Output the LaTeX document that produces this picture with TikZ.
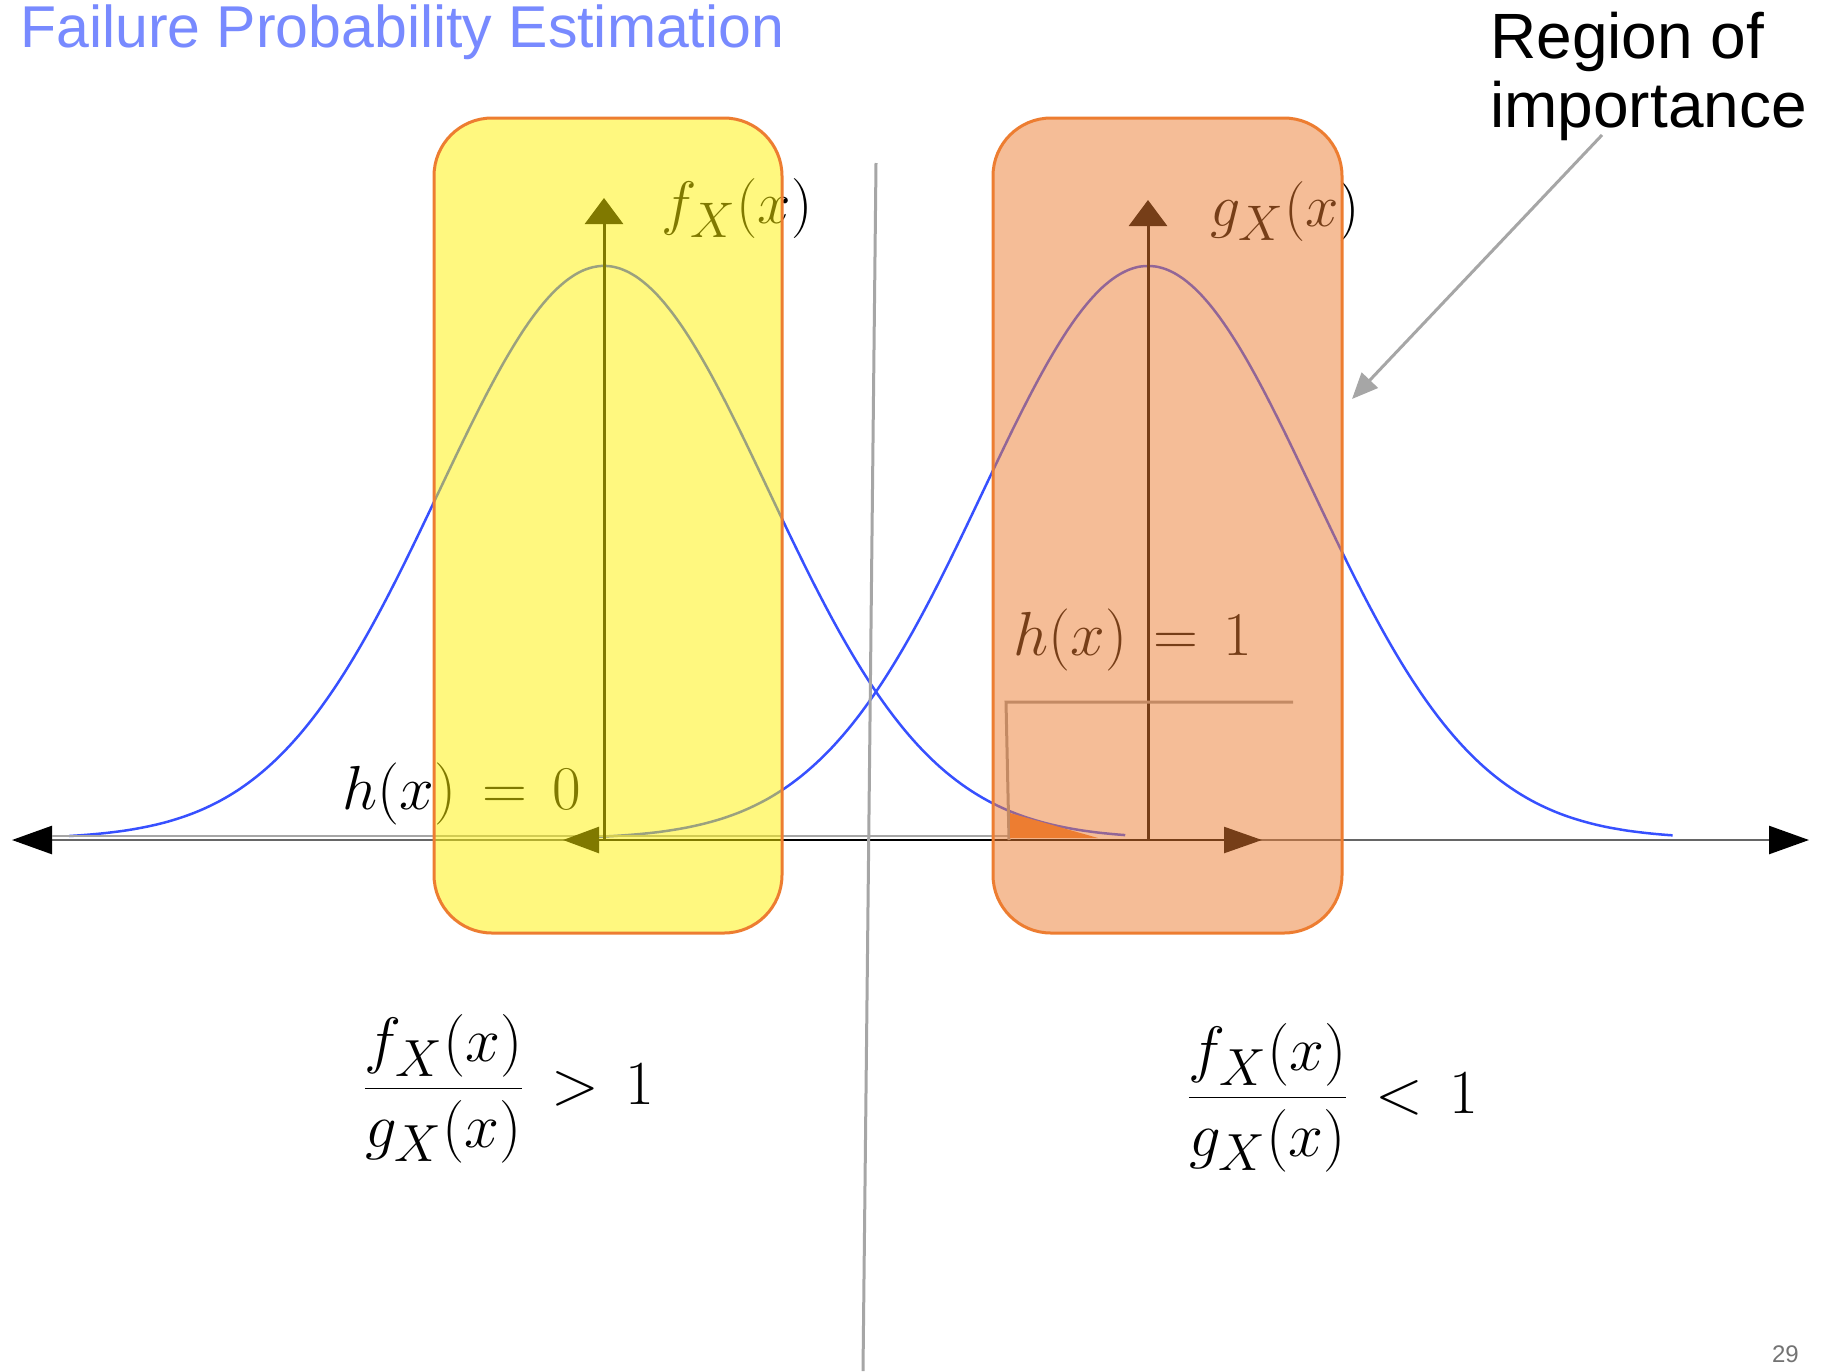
\documentclass[tikz,border=0pt]{standalone}
\usepackage{fontspec}
\usetikzlibrary{arrows.meta}
\newfontfamily\slidefont{Liberation Sans}
\definecolor{curveblue}{RGB}{55,80,255}
\definecolor{boxorange}{RGB}{237,125,49}
\definecolor{titleblue}{RGB}{120,138,255}
\definecolor{guidegray}{RGB}{166,166,166}
\newcommand{\slidemath}[2][2.41]{\scalebox{#1}{\Huge$\displaystyle #2$}}

\begin{document}
\begin{tikzpicture}[x=1pt, y=-1pt,
  density/.style={line width=2.5pt, color=curveblue},
  axisline/.style={line width=2.5pt, color=black!60},
  bigtip/.tip={Triangle[length=40pt, width=28pt, color=black]},
  regionbox/.style={draw=boxorange, line width=3pt, rounded corners=58pt, fill opacity=0.5, inner sep=0pt},
  mathlabel/.style={inner sep=0pt},
  guide/.style={line width=3pt, color=guidegray}
]
\useasboundingbox[fill=white] (0,0) rectangle (1828,1371);

% the two densities
\draw[density] plot[domain=-3.24:3.16, samples=120, smooth] ({604+165*\x},{839-573*exp(-\x*\x/2)});
\draw[density] plot[domain=-3.35:3.18, samples=120, smooth] ({1148+165*\x},{839-573*exp(-\x*\x/2)});

% axes
\coordinate (axl) at (12,840);
\coordinate (axr) at (1809,840);
\draw[axisline, bigtip-bigtip] (axl) -- (axr);
\draw[line width=2.5pt, black!35] (52,836) -- (1008,836);
\coordinate (gl) at (563,840);
\coordinate (gr) at (1262,840);
\draw[line width=2.5pt, {Triangle[length=36pt, width=26pt]}-{Triangle[length=38pt, width=26pt]}] (gl) -- (gr);
\coordinate (fo) at (604,840);
\coordinate (ft) at (604,198);
\draw[line width=3pt, -{Triangle[length=26pt, width=38pt]}] (fo) -- (ft);
\coordinate (go) at (1148,840);
\coordinate (gt) at (1148,200);
\draw[line width=3pt, -{Triangle[length=26pt, width=38pt]}] (go) -- (gt);

% dividing line
\coordinate (divtop) at (876,163);
\coordinate (divbot) at (863,1371);
\draw[guide] (divtop) -- (divbot);

% indicator step
\coordinate (stepr) at (1293,702);
\coordinate (stepc) at (1006,702);
\coordinate (stepb) at (1009,840);
\draw[line width=3pt, black!40] (stepr) -- (stepc) -- (stepb);

% labels under the boxes
\node[mathlabel] (flabel) at (737,209) {\slidemath{f_X(x)}};
\node[mathlabel] (glabel) at (1285,212) {\slidemath{g_X(x)}};
\node[mathlabel] (hone) at (1133,640) {\slidemath[2.5]{h(x)\mskip2.5mu=\mskip2.5mu1}};
\node[mathlabel] (hzero) at (462,794) {\slidemath[2.5]{h(x)\mskip2.5mu=\mskip2.5mu0}};

% regions
\node[regionbox, fill=yellow, minimum width=348pt, minimum height=815pt] (fregion) at (608,525.5) {};
\node[regionbox, fill=boxorange, minimum width=349pt, minimum height=815pt] (gregion) at (1167.5,525.5) {};
\fill[boxorange] (1010,813) -- (1010,838) -- (1098,838) -- cycle;

% texts
\node[anchor=base west, inner sep=0pt, font=\slidefont\fontsize{59}{70}\selectfont, text=titleblue] (title) at (20,47) {Failure Probability Estimation};
\node[anchor=north west, inner sep=0pt, align=left, font=\slidefont\fontsize{64}{69}\selectfont] (roi) at (1490,12) {Region of\\importance};
\coordinate (roistart) at (1602,135);
\coordinate (roitip) at (1352,399);
\draw[guide, -{Triangle[length=26pt, width=22pt]}] (roistart) -- (roitip);

\node[mathlabel] (ratiogt) at (508,1089) {\slidemath[2.52]{\frac{f_X(x)}{g_X(x)}\mskip2.5mu>\mskip2.5mu1}};
\node[mathlabel] (ratiolt) at (1332,1098) {\slidemath[2.52]{\frac{f_X(x)}{g_X(x)}\mskip2.5mu<\mskip2.5mu1}};

\node[anchor=base east, inner sep=0pt, font=\slidefont\fontsize{24}{28}\selectfont, text=black!55] (pageno) at (1799,1362) {29};
\end{tikzpicture}
\end{document}
